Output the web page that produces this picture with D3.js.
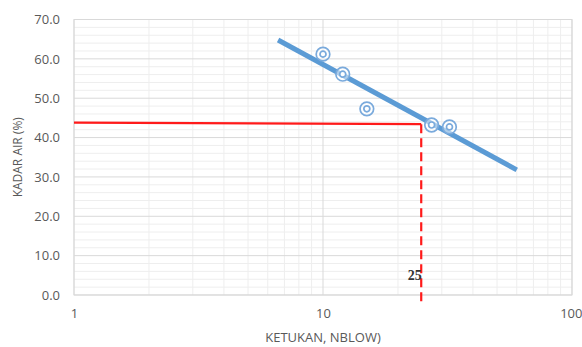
<!DOCTYPE html>
<html>
<head>
<meta charset="utf-8">
<script src="https://cdn.jsdelivr.net/npm/d3@7"></script>
<style>
  html, body { margin: 0; padding: 0; background: #fff; }
  svg { display: block; }
</style>
</head>
<body>
<svg id="chart" width="582" height="347"></svg>
<script>
// Blow counts (x) and measured water content (y)
const blows = [10, 12, 15, 27.3, 32.2];
const waterContent = [61.2, 56.1, 47.3, 43.2, 42.7];

// Fitted flow line endpoints
const trendX = [6.6, 60];
const trendY = [64.8, 31.8];

// Reading of the water content at 25 blows
const readX = [1, 24.8];
const readY = [43.8, 43.4];
const readLabel = "25";

const yTicks = [0, 10, 20, 30, 40, 50, 60, 70];
const xTicks = [1, 10, 100];

const svg = d3.select("#chart");
const margin = { left: 74, right: 10, top: 19.5, bottom: 52 };
const W = 582, H = 347;
const sans = "'Open Sans', 'Liberation Sans', sans-serif";

const x = d3.scaleLog().domain([1, 100]).range([margin.left, W - margin.right]);
const y = d3.scaleLinear().domain([0, 70]).range([H - margin.bottom, margin.top]);

const g = svg.append("g");

// Minor gridlines
const yMinor = d3.range(0, 70.01, 2).filter(v => v % 10 !== 0);
g.selectAll(".ymin").data(yMinor).enter().append("line")
  .attr("x1", x.range()[0]).attr("x2", x.range()[1])
  .attr("y1", d => y(d)).attr("y2", d => y(d))
  .attr("stroke", "#eeeeee").attr("stroke-width", 1);

const xMinor = [];
[1, 10].forEach(b => { for (let k = 2; k <= 9; k++) xMinor.push(b * k); });
g.selectAll(".xmin").data(xMinor).enter().append("line")
  .attr("x1", d => x(d)).attr("x2", d => x(d))
  .attr("y1", y.range()[0]).attr("y2", y.range()[1])
  .attr("stroke", "#eeeeee").attr("stroke-width", 1);

// Major gridlines
g.selectAll(".ymaj").data(yTicks).enter().append("line")
  .attr("x1", x.range()[0]).attr("x2", x.range()[1])
  .attr("y1", d => y(d)).attr("y2", d => y(d))
  .attr("stroke", "#d9d9d9").attr("stroke-width", 1);
g.selectAll(".xmaj").data(xTicks).enter().append("line")
  .attr("x1", d => x(d)).attr("x2", d => x(d))
  .attr("y1", y.range()[0]).attr("y2", y.range()[1])
  .attr("stroke", "#d9d9d9").attr("stroke-width", 1);

// Plot border
g.append("rect")
  .attr("x", x.range()[0]).attr("y", y.range()[1])
  .attr("width", x.range()[1] - x.range()[0])
  .attr("height", y.range()[0] - y.range()[1])
  .attr("fill", "none").attr("stroke", "#d9d9d9");

// Axes (labels only)
const yAxis = d3.axisLeft(y).tickValues(yTicks).tickFormat(d3.format(".1f")).tickSize(0).tickPadding(14);
const ay = svg.append("g").attr("transform", `translate(${margin.left},0)`).call(yAxis);
const xAxis = d3.axisBottom(x).tickValues(xTicks).tickFormat(d3.format("d")).tickSize(0).tickPadding(14);
const ax = svg.append("g").attr("transform", `translate(0,${H - margin.bottom})`).call(xAxis);
[ay, ax].forEach(a => {
  a.select(".domain").remove();
  a.selectAll("text").attr("fill", "#595959")
    .style("font-family", sans).style("font-size", "13px");
});
// keep the last x label inside the canvas
ax.selectAll(".tick text").filter(d => d === 100).attr("text-anchor", "end").attr("dx", "10");

// Axis titles
svg.append("text")
  .attr("transform", `translate(22,${(y.range()[0] + y.range()[1]) / 2}) rotate(-90)`)
  .attr("text-anchor", "middle")
  .attr("fill", "#595959")
  .style("font-family", sans).style("font-size", "12px")
  .text("KADAR AIR (%)");
svg.append("text")
  .attr("x", 323).attr("y", 342)
  .attr("text-anchor", "middle")
  .attr("fill", "#595959")
  .style("font-family", sans).style("font-size", "13px")
  .text("KETUKAN, NBLOW)");

// Red reading lines
const line = d3.line().x(d => x(d[0])).y(d => y(d[1]));
svg.append("path")
  .attr("d", line(readX.map((v, i) => [v, readY[i]])))
  .attr("fill", "none").attr("stroke", "#ff1a1a").attr("stroke-width", 2.2);
svg.append("line")
  .attr("x1", x(readX[1])).attr("x2", x(readX[1]))
  .attr("y1", y(readY[1])).attr("y2", H - 45)
  .attr("stroke", "#ff1a1a").attr("stroke-width", 2.2)
  .attr("stroke-dasharray", "9,5");

svg.append("text")
  .attr("x", x(readX[1]) + 0.5).attr("y", 280)
  .attr("text-anchor", "end")
  .attr("fill", "#333")
  .style("font-family", "'Liberation Serif', 'DejaVu Serif', serif").style("font-size", "14px")
  .style("font-weight", "bold")
  .text(readLabel);

// Trend line
svg.append("path")
  .attr("d", line(trendX.map((v, i) => [v, trendY[i]])))
  .attr("fill", "none").attr("stroke", "#5b9bd5").attr("stroke-width", 5)
  .attr("stroke-linecap", "butt");

// Data markers: concentric rings
const pts = svg.selectAll(".pt").data(blows.map((b, i) => [b, waterContent[i]])).enter()
  .append("g").attr("transform", d => `translate(${x(d[0])},${y(d[1])})`);
pts.append("circle").attr("r", 6.8).attr("fill", "rgba(255,255,255,0.5)")
  .attr("stroke", "#7aaadc").attr("stroke-width", 1.7);
pts.append("circle").attr("r", 3).attr("fill", "#ffffff")
  .attr("stroke", "#7aaadc").attr("stroke-width", 1.7);
</script>
</body>
</html>
